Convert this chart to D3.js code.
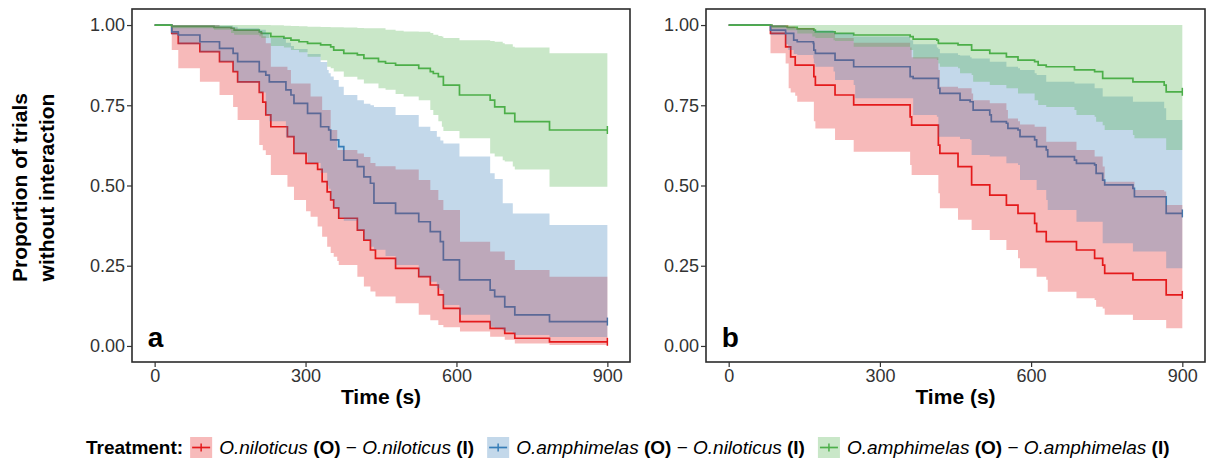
<!DOCTYPE html>
<meta charset="utf-8">
<style>
body { margin: 0; background: #fff; }
svg { font-family: "Liberation Sans", Arial, Helvetica, sans-serif; }
.axis text { font-size: 18px; fill: #333; }
.axis line { stroke: #333; stroke-width: 1.2px; }
.axis path { display: none; }
.title { font-size: 21px; font-weight: bold; fill: #000; }
.panel-label { font-size: 28px; font-weight: bold; fill: #000; }
.legend text { font-size: 19px; fill: #000; }
</style>
<body>
<script src="https://d3js.org/d3.v7.min.js"></script>
<script>

var xTickValues = [0, 300, 600, 900];
var yTickValues = [0, 0.25, 0.5, 0.75, 1];
var panelLabels = ["a", "b"];
var ownerSpecies = ["O.niloticus", "O.amphimelas", "O.amphimelas"];
var intruderSpecies = ["O.niloticus", "O.niloticus", "O.amphimelas"];
var seriesColors = ["#e41a1c", "#377eb8", "#4daf4a"];

// rows: [time (s), survival, lower CI, upper CI]
var aRed = [
  [0, 1, 1, 1], [34, .974, .922, 1], [47, .943, .865, 1], [90, .917, .823, 1],
  [129, .886, .782, .995], [156, .855, .745, .99], [165, .823, .704, .985],
  [208, .79, .626, .979], [215, .76, .61, .965], [221, .72, .595, .943],
  [231, .683, .533, .87], [264, .652, .496, .86], [271, .652, .496, .818], [277, .60, .455, .818],
  [301, .569, .42, .818], [310, .569, .403, .777], [324, .55, .372, .777],
  [333, .512, .34, .735], [343, .48, .309, .735], [350, .455, .29, .673],
  [356, .43, .278, .673], [363, .43, .265, .611], [366, .398, .252, .611], [403, .361, .216, .60],
  [416, .33, .185, .589], [429, .299, .17, .57], [439, .273, .154, .56],
  [479, .242, .133, .55], [525, .216, .097, .517], [548, .19, .08, .486],
  [564, .159, .065, .455], [574, .117, .058, .424], [607, .076, .045, .325],
  [667, .055, .029, .294], [696, .039, .019, .268], [716, .024, .008, .237],
  [785, .013, .003, .216], [900, .013, .003, .216]
];
var aBlue = [
  [0, 1, 1, 1], [34, .979, .97, 1], [47, .969, .94, 1], [90, .948, .915, 1],
  [129, .927, .885, .998], [156, .912, .855, .995], [165, .886, .82, .99],
  [208, .855, .79, .985], [221, .844, .72, .975], [228, .823, .70, .96],
  [261, .798, .65, .945], [271, .782, .65, .935], [277, .756, .60, .925],
  [304, .725, .57, .91], [330, .683, .54, .885], [343, .683, .50, .86], [346, .673, .49, .85],
  [350, .642, .455, .84], [356, .642, .43, .829], [366, .621, .40, .808], [376, .579, .39, .782],
  [403, .559, .36, .766], [416, .527, .33, .755], [429, .507, .309, .75],
  [436, .445, .30, .745], [459, .445, .28, .745], [479, .413, .252, .72],
  [495, .413, .252, .72], [525, .387, .216, .683], [548, .356, .20, .67],
  [561, .356, .18, .652], [568, .325, .174, .64], [574, .268, .128, .631],
  [606, .206, .097, .59], [667, .174, .06, .538], [676, .154, .055, .52],
  [692, .154, .048, .445], [696, .122, .045, .445], [712, .122, .04, .413],
  [716, .097, .034, .413], [785, .076, .028, .377], [900, .076, .028, .377]
];
var aGreen = [
  [0, 1, 1, 1], [34, .996, .99, 1], [118, .993, .985, 1], [152, .99, .975, 1],
  [158, .984, .97, 1], [208, .979, .965, 1], [212, .974, .96, 1],
  [231, .964, .935, .999], [257, .959, .93, .998], [271, .953, .922, .997],
  [287, .948, .915, .996], [304, .943, .901, .995], [330, .938, .89, .994],
  [343, .938, .87, .994], [350, .932, .865, .993], [356, .922, .855, .993],
  [376, .912, .839, .992], [403, .907, .83, .991], [416, .896, .818, .99],
  [445, .886, .803, .99], [459, .881, .798, .985], [479, .875, .785, .982],
  [495, .875, .777, .98], [525, .865, .766, .979], [548, .855, .735, .975],
  [554, .849, .72, .97], [564, .839, .70, .966], [571, .839, .683, .964],
  [574, .813, .67, .96], [606, .782, .647, .953], [667, .766, .60, .95],
  [676, .745, .59, .948], [692, .745, .579, .943], [696, .725, .575, .94],
  [712, .725, .559, .932], [716, .699, .55, .93], [785, .673, .496, .912],
  [900, .673, .496, .912]
];
var bRed = [
  [0, 1, 1, 1], [83, .974, .912, 1], [113, .932, .88, 1], [119, .932, .803, .995],
  [123, .901, .79, .995], [132, .875, .78, .99], [136, .875, .761, .99],
  [169, .839, .70, .98], [172, .813, .678, .975], [211, .782, .642, .96],
  [248, .751, .605, .945], [360, .714, .564, .93], [363, .688, .533, .90],
  [416, .626, .476, .86], [419, .60, .429, .808], [455, .559, .393, .803],
  [482, .502, .361, .787], [485, .502, .361, .766], [518, .47, .33, .756],
  [551, .439, .299, .735], [554, .439, .299, .709], [574, .413, .273, .70],
  [578, .413, .242, .69], [607, .382, .242, .683], [611, .356, .216, .683],
  [630, .325, .206, .636], [633, .325, .169, .636], [690, .299, .149, .611],
  [726, .273, .143, .59], [729, .273, .122, .59], [742, .252, .117, .559],
  [746, .226, .097, .512], [802, .206, .081, .512], [805, .206, .081, .486],
  [864, .206, .081, .481], [868, .159, .055, .439], [900, .159, .055, .439]
];
var bBlue = [
  [0, 1, 1, 1], [83, .984, .969, 1], [113, .974, .94, .995], [118, .974, .922, .993],
  [129, .953, .91, .99], [136, .948, .907, .988], [168, .943, .896, .985],
  [169, .922, .88, .984], [172, .912, .87, .984], [208, .912, .855, .978],
  [211, .891, .829, .974], [248, .87, .813, .964], [251, .87, .772, .964],
  [360, .839, .772, .953], [366, .834, .72, .94], [413, .834, .714, .93],
  [416, .803, .652, .925], [419, .787, .652, .912], [455, .787, .652, .907],
  [459, .766, .645, .905], [479, .761, .642, .90], [482, .761, .595, .896],
  [485, .735, .595, .896], [518, .72, .59, .886], [521, .699, .59, .886],
  [551, .694, .569, .87], [554, .678, .569, .87], [574, .673, .564, .865],
  [578, .652, .517, .86], [607, .642, .517, .85], [611, .621, .486, .844],
  [630, .611, .455, .823], [633, .59, .424, .823], [686, .579, .424, .818],
  [690, .569, .387, .818], [726, .564, .387, .803], [729, .538, .387, .803],
  [742, .517, .32, .777], [746, .502, .32, .777], [802, .491, .294, .761],
  [805, .465, .294, .761], [864, .465, .294, .741], [868, .413, .242, .704],
  [900, .413, .242, .704]
];
var bGreen = [
  [0, 1, 1, 1], [86, .996, .99, 1], [116, .993, .984, 1], [136, .988, .974, 1],
  [166, .988, .964, 1], [169, .984, .964, 1], [172, .979, .96, 1],
  [208, .979, .953, 1], [211, .974, .95, 1], [248, .969, .932, 1],
  [360, .964, .922, 1], [366, .956, .896, 1], [413, .953, .891, 1],
  [416, .943, .88, 1], [419, .943, .87, 1], [455, .938, .865, 1],
  [459, .938, .85, 1], [482, .922, .844, 1], [485, .922, .823, 1],
  [518, .912, .813, 1], [551, .901, .803, 1], [574, .891, .787, 1],
  [607, .886, .766, 1], [614, .875, .751, 1], [630, .87, .745, 1],
  [686, .86, .735, 1], [690, .86, .72, 1], [726, .855, .714, 1],
  [729, .855, .699, 1], [742, .834, .688, 1], [746, .834, .673, 1],
  [802, .823, .657, 1], [805, .823, .647, 1], [864, .813, .647, 1],
  [868, .792, .611, 1], [900, .792, .611, 1]
];

var width = 1208, height = 461;
var plotTop = 9, plotBottom = 362;

var svg = d3.select("body").append("svg")
  .attr("width", width)
  .attr("height", height);

var panels = [
  {label: panelLabels[0], left: 132, right: 630, series: [aRed, aBlue, aGreen]},
  {label: panelLabels[1], left: 706, right: 1205, series: [bRed, bBlue, bGreen]}
];

var y = d3.scaleLinear().domain([-0.05, 1.05]).range([plotBottom, plotTop]);

panels.forEach(function(p) {
  var x = d3.scaleLinear().domain([-45, 945]).range([p.left, p.right]);
  var g = svg.append("g");

  // step lines first, the ribbons go over them (as in the original)
  p.series.forEach(function(rows, i) {
    var line = d3.line()
      .curve(d3.curveStepAfter)
      .x(function(d) { return x(d[0]); })
      .y(function(d) { return y(d[1]); });
    g.append("path")
      .attr("d", line(rows))
      .attr("fill", "none")
      .attr("stroke", seriesColors[i])
      .attr("stroke-width", 1.7);
    var last = rows[rows.length - 1];
    g.append("line")
      .attr("x1", x(last[0])).attr("x2", x(last[0]))
      .attr("y1", y(last[1]) - 4).attr("y2", y(last[1]) + 4)
      .attr("stroke", seriesColors[i])
      .attr("stroke-width", 1.5);
  });

  p.series.forEach(function(rows, i) {
    var area = d3.area()
      .curve(d3.curveStepAfter)
      .x(function(d) { return x(d[0]); })
      .y0(function(d) { return y(d[2]); })
      .y1(function(d) { return y(d[3]); });
    g.append("path")
      .attr("d", area(rows))
      .attr("fill", seriesColors[i])
      .attr("fill-opacity", 0.3);
  });

  g.append("rect")
    .attr("x", p.left).attr("y", plotTop)
    .attr("width", p.right - p.left).attr("height", plotBottom - plotTop)
    .attr("fill", "none")
    .attr("stroke", "#2b2b2b")
    .attr("stroke-width", 1.6);

  svg.append("g")
    .attr("class", "axis")
    .attr("transform", "translate(0," + plotBottom + ")")
    .call(d3.axisBottom(x).tickValues(xTickValues).tickSize(5).tickPadding(2).tickSizeOuter(0));

  svg.append("g")
    .attr("class", "axis")
    .attr("transform", "translate(" + p.left + ",0)")
    .call(d3.axisLeft(y).tickValues(yTickValues).tickFormat(d3.format(".2f")).tickSize(5).tickPadding(2).tickSizeOuter(0));

  svg.append("text")
    .attr("class", "title")
    .attr("x", x(450)).attr("y", 404)
    .attr("text-anchor", "middle")
    .text("Time (s)");

  svg.append("text")
    .attr("class", "panel-label")
    .attr("x", x(0) - 7).attr("y", y(0) + 1)
    .text(p.label);
});

// y axis title (two lines)
var yt = svg.append("g").attr("transform", "translate(0," + ((plotTop + plotBottom) / 2 + 2) + ") rotate(-90)");
yt.append("text").attr("class", "title").attr("x", 0).attr("y", 27)
  .attr("text-anchor", "middle").text("Proportion of trials");
yt.append("text").attr("class", "title").attr("x", 0).attr("y", 54)
  .attr("text-anchor", "middle").text("without interaction");

// legend
var legend = svg.append("g").attr("class", "legend");
var ly = 454, cx = 86;
var lt = legend.append("text").attr("x", cx).attr("y", ly)
  .attr("font-weight", "bold").text("Treatment:");
cx += lt.node().getComputedTextLength() + 7;

ownerSpecies.forEach(function(o, i) {
  var c = seriesColors[i];
  legend.append("rect")
    .attr("x", cx).attr("y", 437).attr("width", 22).attr("height", 21)
    .attr("fill", c).attr("fill-opacity", 0.3);
  legend.append("line")
    .attr("x1", cx + 2).attr("x2", cx + 20).attr("y1", 447.5).attr("y2", 447.5)
    .attr("stroke", c).attr("stroke-width", 1.7);
  legend.append("line")
    .attr("x1", cx + 11).attr("x2", cx + 11).attr("y1", 443.5).attr("y2", 451.5)
    .attr("stroke", c).attr("stroke-width", 1.5);
  cx += 29;
  var t = legend.append("text").attr("x", cx).attr("y", ly);
  t.append("tspan").attr("font-style", "italic").text(o);
  t.append("tspan").text(" ");
  t.append("tspan").attr("font-weight", "bold").text("(O)");
  t.append("tspan").text(" \u2212 ");
  t.append("tspan").attr("font-style", "italic").text(intruderSpecies[i]);
  t.append("tspan").text(" ");
  t.append("tspan").attr("font-weight", "bold").text("(I)");
  cx += t.node().getComputedTextLength() + 13;
});

</script>
</body>
